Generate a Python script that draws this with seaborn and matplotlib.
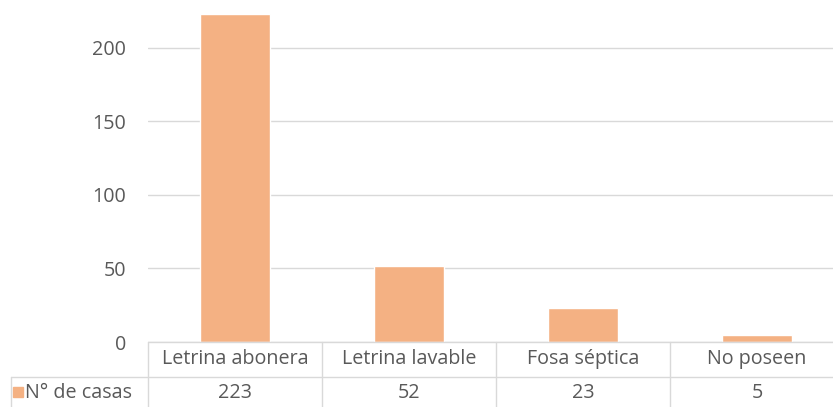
import numpy as np
import pandas as pd
import seaborn as sns
import matplotlib
matplotlib.use('Agg')
import matplotlib.pyplot as plt
import matplotlib.patches as patches
from matplotlib.lines import Line2D

categories = ['Letrina abonera', 'Letrina lavable', 'Fosa séptica', 'No poseen']
values = [223, 52, 23, 5]
series_name = 'N° de casas'
yticks = [0, 50, 100, 150, 200]

bar_color = '#F4B183'
text_color = '#595959'
line_color = '#D9D9D9'

sns.set_style('white')
plt.rcParams['font.family'] = ['Open Sans', 'DejaVu Sans']
fs = 14.2

W, H = 833, 407
fig = plt.figure(figsize=(W / 100, H / 100), dpi=100)

# plot area in pixels: x 148..844 (cropped right), y 0..342
px_left, px_right, px_zero = 148, 844, 342
ax = fig.add_axes([px_left / W, (H - px_zero) / H,
                   (px_right - px_left) / W, px_zero / H])

df = pd.DataFrame({'cat': categories, 'val': values})
sns.barplot(ax=ax, data=df, x='cat', y='val', color=bar_color,
            width=0.4, saturation=1)

ax.set_xlim(-0.5, len(categories) - 0.5)
ax.set_ylim(0, 232.6)
ax.set_yticks(yticks)
ax.yaxis.grid(True, color=line_color, lw=1)
ax.set_axisbelow(True)
for s in ax.spines.values():
    s.set_visible(False)
ax.set_xlabel('')
ax.set_ylabel('')
ax.set_xticks([])
ax.tick_params(axis='y', length=0, pad=16, labelsize=fs, labelcolor=text_color)

# data table below the axis
def fx(px):
    return px / W

def fy(py):
    return 1 - py / H

row1_top, row1_bot, row2_bot = 342, 377, 407
col_w = (px_right - px_left) / len(categories)

def hline(x0, x1, y):
    fig.add_artist(Line2D([fx(x0), fx(x1)], [fy(y), fy(y)],
                          color=line_color, lw=1, transform=fig.transFigure))

def vline(x, y0, y1):
    fig.add_artist(Line2D([fx(x), fx(x)], [fy(y0), fy(y1)],
                          color=line_color, lw=1, transform=fig.transFigure))

hline(px_left, W, row1_top)
hline(11, W, row1_bot)
vline(11, row1_bot, row2_bot)
for i in range(len(categories)):
    vline(px_left + i * col_w, row1_top, row2_bot)

for i, (c, v) in enumerate(zip(categories, values)):
    cx = px_left + (i + 0.5) * col_w
    fig.text(fx(cx), fy(359), c, ha='center', va='center',
             fontsize=fs, color=text_color)
    fig.text(fx(cx), fy(393), str(v), ha='center', va='center',
             fontsize=fs, color=text_color)

fig.add_artist(patches.Rectangle((fx(13), fy(397)), 10 / W, 10 / H,
                                 color=bar_color, transform=fig.transFigure))
fig.text(fx(25), fy(393), series_name, ha='left', va='center',
         fontsize=fs, color=text_color)

fig.savefig('out.png', dpi=100)
